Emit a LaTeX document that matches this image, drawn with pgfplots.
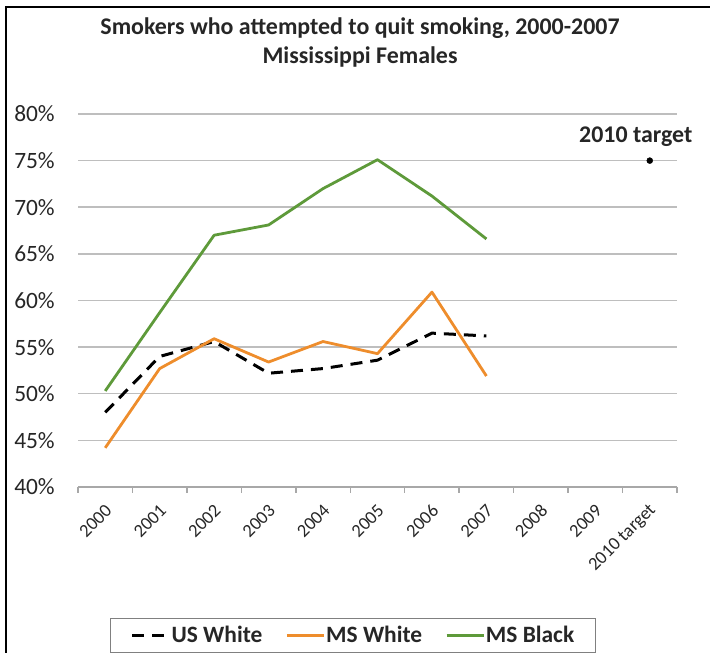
\documentclass[border=0pt]{standalone}
\usepackage{fontspec}
\setmainfont{Carlito}
\usepackage{pgfplots}
\pgfplotsset{compat=1.18}
\definecolor{msgreen}{HTML}{5E9A3A}
\definecolor{msorange}{HTML}{EE8D2C}
\definecolor{gridgray}{HTML}{BEBEBE}
\definecolor{axisgray}{HTML}{A8A8A8}
\definecolor{txt}{HTML}{262626}
\begin{document}
\begin{tikzpicture}
\useasboundingbox (0bp,0bp) rectangle (710bp,653bp);
\clip (0bp,0bp) rectangle (710bp,653bp);
\draw[line width=2.4bp] (6bp,0bp) -- (6bp,646bp) -- (710bp,646bp);
\node[font=\fontsize{24}{29}\selectfont\bfseries, align=center, text=txt, inner sep=0pt] at (360bp,610.5bp)
  {Smokers who attempted to quit smoking, 2000-2007\\Mississippi Females};
\begin{axis}[
  at={(78bp,166bp)}, anchor=south west, scale only axis,
  width=599bp, height=373bp,
  xmin=-0.5, xmax=10.5, ymin=40, ymax=80,
  axis lines*=left,
  y axis line style={draw=none},
  x axis line style={axisgray, line width=2.2bp},
  xtick={0,...,10},
  xticklabels={2000,2001,2002,2003,2004,2005,2006,2007,2008,2009,2010 target},
  major x tick style={draw=none},
  minor xtick={-0.5,0.5,...,10.5},
  minor x tick style={axisgray, line width=1.5bp},
  minor tick length=6bp,
  tick align=outside,
  ytick={40,45,...,80},
  ytick style={draw=none},
  ymajorgrids, grid style={gridgray, line width=1.5bp},
  yticklabel={\pgfmathprintnumber{\tick}\%},
  /pgf/number format/assume math mode=true,
  yticklabel style={font=\fontsize{23.5}{23.5}\selectfont, text=txt, xshift=-15.5bp},
  xticklabel style={font=\fontsize{18.5}{18.5}\selectfont, rotate=45, anchor=east, text=txt, inner sep=0pt, xshift=-9bp, yshift=-14bp},
  clip=false,
  legend columns=3,
  legend cell align=left,
  legend image code/.code={\draw[#1] (0bp,0bp) -- (37bp,0bp);},
  legend style={at={(axis description cs:0.0534,-0.351)}, anchor=north west,
    draw=gray, line width=1.2bp, font=\fontsize{23.5}{23.5}\selectfont\bfseries,
    text=txt, inner xsep=20bp, inner ysep=6bp,
    nodes={inner xsep=1bp},
    /tikz/every even column/.append style={column sep=22bp}},
]
\addplot[black, line width=3bp, dash pattern=on 12bp off 8bp, line join=round] coordinates {
  (0,48.0) (1,54.0) (2,55.6) (3,52.2) (4,52.7) (5,53.6) (6,56.5) (7,56.2)};
\addlegendentry{US White}
\addplot[msorange, line width=2.8bp, line join=round] coordinates {
  (0,44.2) (1,52.7) (2,55.9) (3,53.4) (4,55.6) (5,54.3) (6,60.9) (7,51.9)};
\addlegendentry{MS White}
\addplot[msgreen, line width=2.8bp, line join=round] coordinates {
  (0,50.3) (1,58.7) (2,67.0) (3,68.1) (4,72.0) (5,75.1) (6,71.2) (7,66.6)};
\addlegendentry{MS Black}
\addplot[only marks, mark=*, mark size=3bp, black, forget plot] coordinates {(10,75)};
\node[font=\fontsize{24}{24}\selectfont\bfseries, text=txt, xshift=-14bp, yshift=24bp] at (axis cs:10,75) {2010 target};
\end{axis}
\end{tikzpicture}
\end{document}
